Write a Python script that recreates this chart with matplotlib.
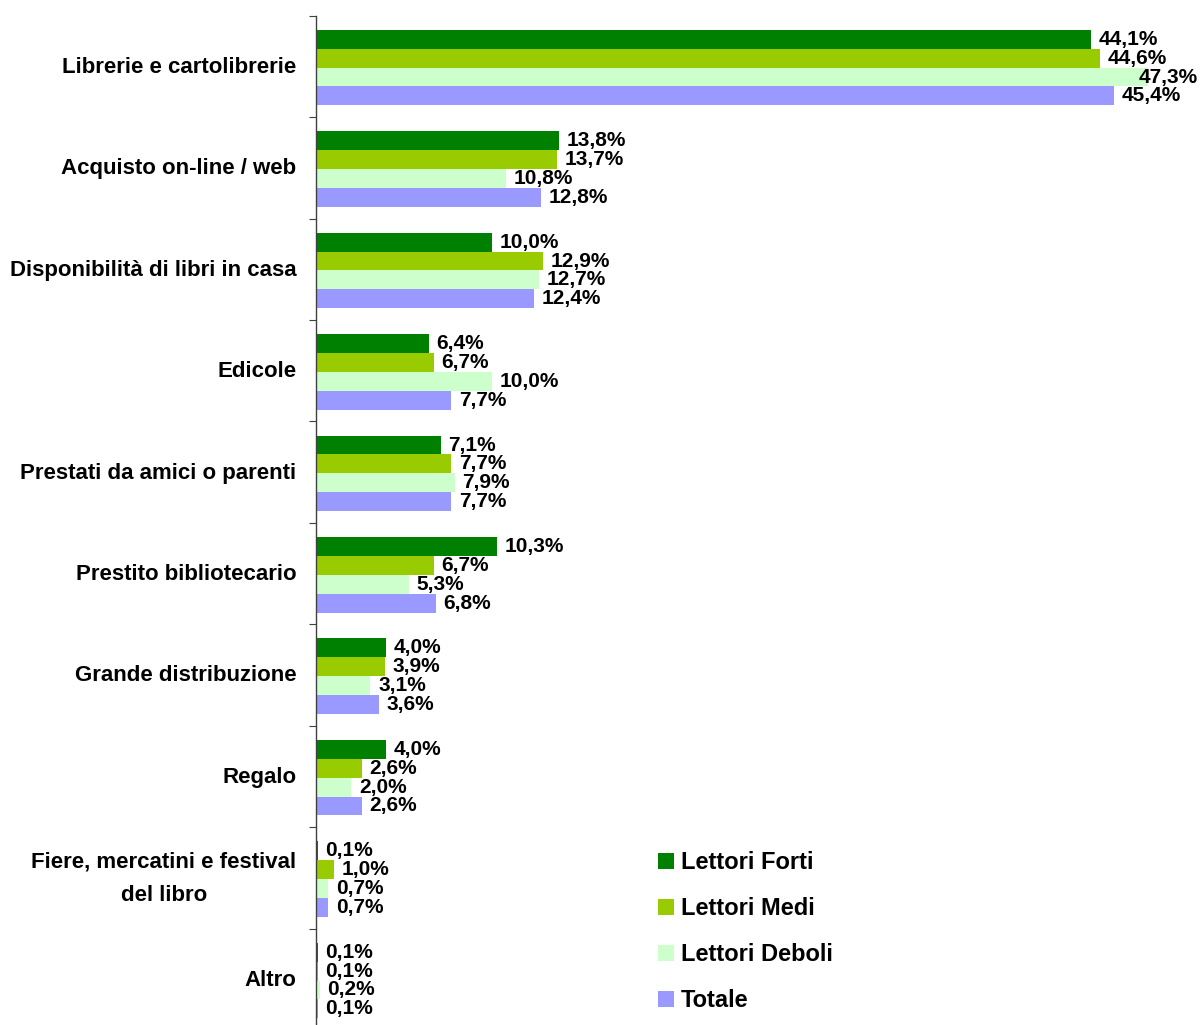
import matplotlib
matplotlib.use("Agg")
import matplotlib.pyplot as plt
import numpy as np

categories = [
    "Librerie e cartolibrerie",
    "Acquisto on-line / web",
    "Disponibilità di libri in casa",
    "Edicole",
    "Prestati da amici o parenti",
    "Prestito bibliotecario",
    "Grande distribuzione",
    "Regalo",
    "Fiere, mercatini e festival\ndel libro",
    "Altro",
]
series_names = ["Lettori Forti", "Lettori Medi", "Lettori Deboli", "Totale"]
forti = [44.1, 13.8, 10.0, 6.4, 7.1, 10.3, 4.0, 4.0, 0.1, 0.1]
medi = [44.6, 13.7, 12.9, 6.7, 7.7, 6.7, 3.9, 2.6, 1.0, 0.1]
deboli = [47.3, 10.8, 12.7, 10.0, 7.9, 5.3, 3.1, 2.0, 0.7, 0.2]
totale = [45.4, 12.8, 12.4, 7.7, 7.7, 6.8, 3.6, 2.6, 0.7, 0.1]
colors = ["#008000", "#99CC00", "#CCFFCC", "#9999FF"]

plt.rcParams["font.family"] = ["Liberation Sans", "DejaVu Sans"]
plt.rcParams["font.weight"] = "bold"

fig = plt.figure(figsize=(12, 10.25), dpi=100)
W, H = 1200, 1025
ax_left, ax_right = 316 / W, 1195 / W
ax_top, ax_bot = 1 - 15.7 / H, 1 - 1030 / H
ax = fig.add_axes([ax_left, ax_bot, ax_right - ax_left, ax_top - ax_bot])

n = len(categories)
bh = 0.186
start = 0.14
all_series = [forti, medi, deboli, totale]
texts = []
for k, (vals, col, name) in enumerate(zip(all_series, colors, series_names)):
    ys = np.arange(n) + start + bh * k + bh / 2
    ax.barh(ys, vals, height=bh, color=col, label=name, linewidth=0)
    for y, v in zip(ys, vals):
        t = ax.annotate(f"{v:.1f}%".replace(".", ","), xy=(v, y), xytext=(5.5, 0),
                        textcoords="offset points", ha="left", va="center",
                        fontsize=15, fontweight="bold", color="black")
        texts.append(t)

ax.set_xlim(0, 50)
ax.set_ylim(n, 0)
for s in ["top", "right", "bottom"]:
    ax.spines[s].set_visible(False)
ax.spines["left"].set_color("#404040")
ax.spines["left"].set_linewidth(1.0)
ax.set_xticks([])
ax.set_yticks(np.arange(n + 1))
ax.set_yticklabels([])
ax.tick_params(axis="y", which="major", length=5, direction="out", color="#404040")

# category labels
for i, cat in enumerate(categories):
    ax.annotate(cat, xy=(0, i + 0.5), xycoords=("axes fraction", "data"),
                xytext=(-14, -0.7), textcoords="offset points",
                ha="right", va="center", multialignment="center",
                linespacing=1.75, fontsize=16, fontweight="bold", color="black")

ax.legend(loc="upper left", bbox_to_anchor=(658 / W, 1 - 851 / H),
          bbox_transform=fig.transFigure, frameon=False,
          prop={"weight": "bold", "size": 17}, handlelength=0.68,
          handleheight=0.68, handletextpad=0.3, labelspacing=0.98,
          borderpad=0, borderaxespad=0)

# keep value labels inside the figure (shift left if needed)
fig.canvas.draw()
renderer = fig.canvas.get_renderer()
for t in texts:
    bb = t.get_window_extent(renderer)
    if bb.x1 > W - 2:
        dx_pts = (bb.x1 - (W - 2)) * 72 / fig.dpi
        ox, oy = t.xyann
        t.xyann = (ox - dx_pts, oy)

fig.savefig("out.png", dpi=100)
